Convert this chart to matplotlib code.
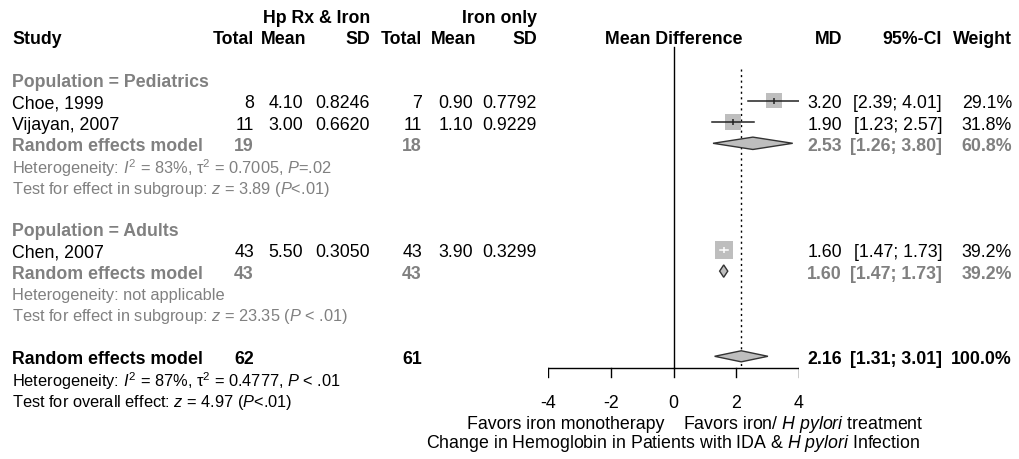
import matplotlib
matplotlib.use("Agg")
import matplotlib.pyplot as plt
from matplotlib import transforms
from matplotlib.patches import Polygon

plt.rcParams['font.family'] = ['Liberation Sans', 'DejaVu Sans']
plt.rcParams['mathtext.fontset'] = 'custom'
plt.rcParams['mathtext.rm'] = 'Liberation Sans'
plt.rcParams['mathtext.it'] = 'Liberation Sans:italic'
plt.rcParams['mathtext.bf'] = 'Liberation Sans:bold'

# ---------------- data ----------------
studies = ["Choe, 1999", "Vijayan, 2007", "Chen, 2007"]
study_group = [0, 0, 1]
hp_total = [8, 11, 43]
hp_mean = [4.10, 3.00, 5.50]
hp_sd = [0.8246, 0.6620, 0.3050]
fe_total = [7, 11, 43]
fe_mean = [0.90, 1.10, 3.90]
fe_sd = [0.7792, 0.9229, 0.3299]
md = [3.20, 1.90, 1.60]
ci_lo = [2.39, 1.23, 1.47]
ci_hi = [4.01, 2.57, 1.73]
weight = [29.1, 31.8, 39.2]

groups = ["Population = Pediatrics", "Population = Adults"]
grp_hp_total = [19, 43]
grp_fe_total = [18, 43]
grp_md = [2.53, 1.60]
grp_lo = [1.26, 1.47]
grp_hi = [3.80, 1.73]
grp_weight = [60.8, 39.2]
grp_het = [r"Heterogeneity: $I^2$ = 83%, $\mathrm{\tau}^2$ = 0.7005, $P$=.02",
           "Heterogeneity: not applicable"]
grp_test = [r"Test for effect in subgroup: $z$ = 3.89 ($P$<.01)",
            r"Test for effect in subgroup: $z$ = 23.35 ($P$ < .01)"]

tot_hp_total = 62
tot_fe_total = 61
tot_md = 2.16
tot_lo = 1.31
tot_hi = 3.01
tot_weight = 100.0
tot_het = r"Heterogeneity: $I^2$ = 87%, $\mathrm{\tau}^2$ = 0.4777, $P$ < .01"
tot_test = r"Test for overall effect: $z$ = 4.97 ($P$<.01)"

xticks = [-4, -2, 0, 2, 4]
xlabel_left = "Favors iron monotherapy"
xlabel_right = r"Favors iron/ $H\ pylori$ treatment"
xlabel = r"Change in Hemoglobin in Patients with IDA & $H\ pylori$ Infection"

# ---------------- layout ----------------
W, H = 1019, 460
Y0, DR = 16.5, 21.3
TOFF = 0.1          # small downward shift of text rows
GRAY = "#808080"
FS = 12.8
FS_H = 11.8

fig = plt.figure(figsize=(W / 100, H / 100), dpi=100)
ax = fig.add_axes([548 / W, 0, (799 - 548) / W, 1])
ax.set_xlim(-4, 4)
ax.set_ylim((H - Y0) / DR, -Y0 / DR)
ax.axis("off")

tr = transforms.blended_transform_factory(fig.transFigure, ax.transData)


def put(px, row, s, ha="left", bold=False, color="black", size=FS):
    ax.text(px / W, row + TOFF, s, ha=ha, va="center",
            fontsize=size, fontweight="bold" if bold else "normal",
            color=color, transform=tr, clip_on=False)


# column right edges (px)
C_STUDY = 12
C_HPT, C_HPM, C_HPS = 254, 303, 370
C_FET, C_FEM, C_FES = 422, 473, 537
C_MD, C_CI, C_W = 842, 942, 1012

# headers
put(C_HPS, 0, "Hp Rx & Iron", ha="right", bold=True)
put(C_FES, 0, "Iron only", ha="right", bold=True)
put(C_STUDY, 1, "Study", bold=True)
for px, s in [(C_HPT, "Total"), (C_HPM + 3, "Mean"), (C_HPS, "SD"),
              (C_FET, "Total"), (C_FEM + 3, "Mean"), (C_FES, "SD"),
              (C_MD, "MD"), (C_CI, "95%-CI"), (C_W, "Weight")]:
    put(px, 1, s, ha="right", bold=True)
ax.text(0, 1 + TOFF, "Mean Difference", ha="center", va="center", fontsize=FS,
        fontweight="bold", clip_on=False)


def ci_text(lo, hi):
    return f"[{lo:.2f}; {hi:.2f}]"


def box_size(w):
    return (2.85 * w ** 0.5 * 0.72) ** 2


def diamond(est, lo, hi, row, fc, ec, h=0.29):
    ax.add_patch(Polygon([(lo, row), (est, row - h), (hi, row), (est, row + h)],
                         closed=True, facecolor=fc, edgecolor=ec, lw=1.0, zorder=4))


group_start = [3, 10]
for g, gname in enumerate(groups):
    r = group_start[g]
    put(C_STUDY, r, gname, bold=True, color=GRAY)
    r += 1
    for i in [k for k in range(len(studies)) if study_group[k] == g]:
        put(C_STUDY, r, studies[i])
        put(C_HPT, r, f"{hp_total[i]}", ha="right")
        put(C_HPM, r, f"{hp_mean[i]:.2f}", ha="right")
        put(C_HPS, r, f"{hp_sd[i]:.4f}", ha="right")
        put(C_FET, r, f"{fe_total[i]}", ha="right")
        put(C_FEM, r, f"{fe_mean[i]:.2f}", ha="right")
        put(C_FES, r, f"{fe_sd[i]:.4f}", ha="right")
        put(C_MD, r, f"{md[i]:.2f}", ha="right")
        put(C_CI, r, ci_text(ci_lo[i], ci_hi[i]), ha="right")
        put(C_W, r, f"{weight[i]:.1f}%", ha="right")
        ax.scatter([md[i]], [r], marker="s", s=box_size(weight[i]),
                   color="#bebebe", edgecolor="none", zorder=3)
        inside = (ci_hi[i] - ci_lo[i]) < 0.5
        lc = "white" if inside else "#222222"
        ax.plot([ci_lo[i], ci_hi[i]], [r, r], color=lc, lw=1.1, zorder=4)
        ax.plot([md[i]], [r], marker="|", ms=5, mew=1.1, color=lc, zorder=5)
        r += 1
    put(C_STUDY, r, "Random effects model", bold=True, color=GRAY)
    put(C_HPT, r, f"{grp_hp_total[g]}", ha="right", bold=True, color=GRAY)
    put(C_FET, r, f"{grp_fe_total[g]}", ha="right", bold=True, color=GRAY)
    put(C_MD, r, f"{grp_md[g]:.2f}", ha="right", bold=True, color=GRAY)
    put(C_CI, r, ci_text(grp_lo[g], grp_hi[g]), ha="right", bold=True, color=GRAY)
    put(C_W, r, f"{grp_weight[g]:.1f}%", ha="right", bold=True, color=GRAY)
    diamond(grp_md[g], grp_lo[g], grp_hi[g], r, "#bebebe", "#333333")
    put(C_STUDY, r + 1, grp_het[g], color=GRAY, size=FS_H)
    put(C_STUDY, r + 2, grp_test[g], color=GRAY, size=FS_H)

# overall
r = 16
put(C_STUDY, r, "Random effects model", bold=True)
put(C_HPT, r, f"{tot_hp_total}", ha="right", bold=True)
put(C_FET, r, f"{tot_fe_total}", ha="right", bold=True)
put(C_MD, r, f"{tot_md:.2f}", ha="right", bold=True)
put(C_CI, r, ci_text(tot_lo, tot_hi), ha="right", bold=True)
put(C_W, r, f"{tot_weight:.1f}%", ha="right", bold=True)
diamond(tot_md, tot_lo, tot_hi, r, "#bebebe", "#333333", h=0.26)
put(C_STUDY, 17, tot_het, size=FS_H)
put(C_STUDY, 18, tot_test, size=FS_H)

# reference lines
AX_ROW = 16.55
ax.plot([0, 0], [1.48, AX_ROW], color="black", lw=1.0, zorder=2)
ax.plot([tot_md, tot_md], [2.5, AX_ROW], color="black", lw=1.0,
        linestyle=(0, (1.5, 2.5)), zorder=2)

# x axis
ax.plot([xticks[0], xticks[-1]], [AX_ROW, AX_ROW], color="black", lw=1.0)
for t in xticks:
    ax.plot([t, t], [AX_ROW, AX_ROW + 0.42], color="black", lw=1.0)
    ax.text(t, 18.15, f"{t}", ha="center", va="center", fontsize=FS)
ax.text(-0.3, 19.15, xlabel_left, ha="right", va="center", fontsize=FS)
ax.text(0.3, 19.15, xlabel_right, ha="left", va="center", fontsize=FS)
ax.text(0, 20.05, xlabel, ha="center", va="center", fontsize=FS)

fig.savefig("out.png", dpi=100, facecolor="white")
